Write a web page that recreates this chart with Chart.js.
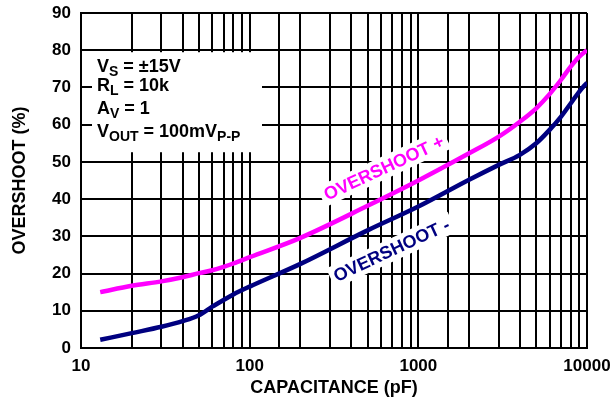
<!DOCTYPE html>
<html>
<head>
<meta charset="utf-8">
<script src="https://cdn.jsdelivr.net/npm/chart.js@4.4.0/dist/chart.umd.min.js"></script>
<style>
  body { margin: 0; background: #fff; }
  #wrap { width: 610px; height: 404px; }
</style>
</head>
<body>
<div id="wrap"><canvas id="overshoot-chart"></canvas></div>
<script>
// capacitive load (pF)
const capacitance = [13, 20, 30, 40, 50, 60, 70, 80, 100, 200, 500, 1000, 2000, 3000, 4000, 5000, 6000, 7000, 8000, 9000, 10000];
// overshoot (%)
const overshootPos = [15, 16.7, 17.9, 19.0, 20.1, 20.9, 21.8, 22.7, 24.4, 29.6, 38.2, 45, 52.3, 56.8, 60.8, 64.4, 68.2, 72, 75.6, 78.3, 80];
const overshootNeg = [2.2, 4, 5.7, 7.2, 8.8, 11.1, 12.9, 14.4, 16.5, 22.6, 31.6, 38, 45.2, 49.2, 51.9, 55, 58.6, 62.1, 65.7, 68.9, 71.3];
// only decades get a label
const xTickLabels = [10, 100, 1000, 10000];

// test conditions, [text, isSubscript]
const conditions = [
  [['V', false], ['S', true], [' = \u00b115V', false]],
  [['R', false], ['L', true], [' = 10k', false]],
  [['A', false], ['V', true], [' = 1', false]],
  [['V', false], ['OUT', true], [' = 100mV', false], ['P-P', true]]
];

const FONT = 'Arial, "Liberation Sans", sans-serif';
Chart.defaults.font.family = FONT;
Chart.defaults.color = '#000';

// draws the condition box and the curve labels
const notes = {
  id: 'notes',
  beforeDatasetsDraw(chart) {
    const { ctx, chartArea, scales: { x, y } } = chart;
    ctx.save();

    const boxLeft = chartArea.left + 11;
    const boxTop = y.getPixelForValue(80) + 2;
    ctx.fillStyle = '#fff';
    ctx.fillRect(boxLeft, boxTop, 170, 100);

    const baselines = [19.7, 39, 62, 85];
    ctx.fillStyle = '#000';
    ctx.textBaseline = 'alphabetic';
    ctx.textAlign = 'left';
    conditions.forEach((row, i) => {
      let cx = boxLeft + 5;
      const by = boxTop + baselines[i];
      row.forEach(([t, sub]) => {
        ctx.font = sub ? 'bold 14px ' + FONT : 'bold 18px ' + FONT;
        ctx.fillText(t, cx, sub ? by + 4 : by);
        cx += ctx.measureText(t).width;
      });
    });

    const labels = [
      { text: 'OVERSHOOT +', color: '#ff00ff', cx: 625, cy: 48.4 },
      { text: 'OVERSHOOT -', color: '#000080', cx: 693, cy: 26.3 }
    ];
    ctx.font = 'bold 18px ' + FONT;
    ctx.textAlign = 'center';
    ctx.textBaseline = 'middle';
    labels.forEach(l => {
      ctx.save();
      ctx.translate(x.getPixelForValue(l.cx), y.getPixelForValue(l.cy));
      ctx.rotate(-25 * Math.PI / 180);
      const w = ctx.measureText(l.text).width;
      ctx.fillStyle = '#fff';
      ctx.fillRect(-w / 2 - 4, -11, w + 8, 22);
      ctx.fillStyle = l.color;
      ctx.fillText(l.text, 0, 1);
      ctx.restore();
    });
    ctx.restore();
  }
};

const tickFont = { size: 17, weight: 'bold' };
const titleFont = { size: 18, weight: 'bold' };

new Chart(document.getElementById('overshoot-chart'), {
  type: 'line',
  data: {
    datasets: [
      {
        label: 'OVERSHOOT +',
        data: capacitance.map((c, i) => ({ x: c, y: overshootPos[i] })),
        borderColor: '#ff00ff',
        borderWidth: 4.5,
        pointRadius: 0,
        cubicInterpolationMode: 'monotone',
        fill: false
      },
      {
        label: 'OVERSHOOT -',
        data: capacitance.map((c, i) => ({ x: c, y: overshootNeg[i] })),
        borderColor: '#000080',
        borderWidth: 4.5,
        pointRadius: 0,
        cubicInterpolationMode: 'monotone',
        fill: false
      }
    ]
  },
  options: {
    responsive: true,
    maintainAspectRatio: false,
    animation: false,
    layout: { padding: { top: 13, right: 23, left: 0, bottom: 0 } },
    plugins: { legend: { display: false }, tooltip: { enabled: false } },
    scales: {
      x: {
        type: 'logarithmic',
        min: 10,
        max: 10000,
        grid: { color: '#000', lineWidth: 2, drawTicks: false },
        border: { color: '#000', width: 2 },
        ticks: {
          autoSkip: false,
          maxRotation: 0,
          padding: 8,
          font: tickFont,
          callback: v => xTickLabels.includes(v) ? String(v) : ''
        },
        title: { display: true, text: 'CAPACITANCE (pF)', font: titleFont, padding: { top: 0, bottom: 5 } },
        afterFit: s => { s.height = 56; s.paddingLeft = 0; s.paddingRight = 0; }
      },
      y: {
        min: 0,
        max: 90,
        grid: { color: '#000', lineWidth: 2, drawTicks: false },
        border: { color: '#000', width: 2 },
        ticks: { stepSize: 10, padding: 10, font: tickFont },
        title: { display: true, text: 'OVERSHOOT (%)', font: titleFont, padding: { top: 9, bottom: 0 } },
        afterFit: s => { s.width = 81; s.paddingTop = 0; s.paddingBottom = 0; }
      }
    }
  },
  plugins: [notes]
});
</script>
</body>
</html>
